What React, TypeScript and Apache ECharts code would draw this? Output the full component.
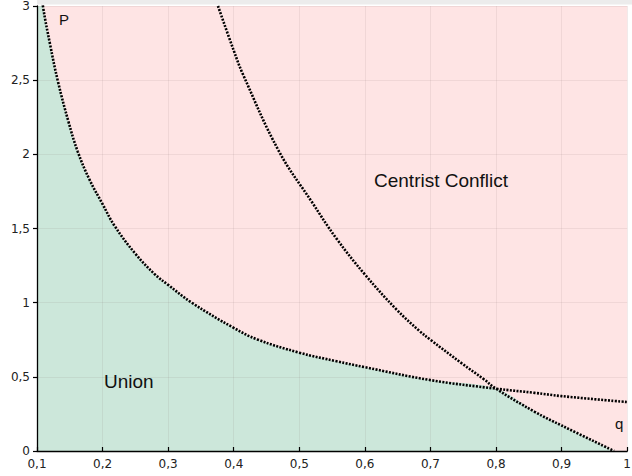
import React, { useEffect, useRef } from "react";
import * as echarts from "echarts";

const xTicks = [0.1, 0.2, 0.3, 0.4, 0.5, 0.6, 0.7, 0.8, 0.9, 1.0];
const yTicks = [0, 0.5, 1, 1.5, 2, 2.5, 3];

// Curve P
const pCurve: [number, number][] = [
  [0.1, 3.3], [0.109, 3.0], [0.12, 2.74], [0.132, 2.49], [0.148, 2.22],
  [0.162, 2.02], [0.18, 1.83], [0.2, 1.665], [0.218, 1.52], [0.25, 1.33],
  [0.28, 1.19], [0.3, 1.12], [0.336, 1.0], [0.4, 0.83], [0.436, 0.752],
  [0.5, 0.663], [0.557, 0.605], [0.6, 0.565], [0.7, 0.478], [0.8, 0.42],
  [0.859, 0.392], [0.9, 0.37], [1.0, 0.33],
];

// Curve q
const qCurve: [number, number][] = [
  [0.376, 3.0], [0.4, 2.7], [0.414, 2.54], [0.469, 2.02], [0.519, 1.68],
  [0.557, 1.43], [0.6, 1.19], [0.648, 0.955], [0.683, 0.81], [0.7, 0.75],
  [0.748, 0.59], [0.781, 0.485], [0.8, 0.42], [0.859, 0.264], [0.9, 0.172],
  [0.98, 0],
];

const crossX = 0.8;

const regionLabels = [
  { text: "P", x: 59, y: 19.5, size: 15 },
  { text: "q", x: 615, y: 423, size: 15 },
  { text: "Centrist Conflict", x: 374, y: 180, size: 19 },
  { text: "Union", x: 104, y: 381, size: 19 },
];

const fmt = (v: number) => String(Number(v.toFixed(1))).replace(".", ",");

export default function App() {
  const ref = useRef<HTMLDivElement>(null);
  useEffect(() => {
    if (!ref.current) return;
    const chart = echarts.init(ref.current, null, { renderer: "svg" });
    const unionBoundary = pCurve
      .filter((p) => p[0] < crossX)
      .concat(qCurve.filter((q) => q[0] >= crossX));
    const dotted = {
      color: "#000",
      width: 2.6,
      type: [2, 1.4] as any,
      cap: "butt" as const,
    };
    const smoothOpts = { smooth: 0.4 };
    chart.setOption({
      animation: false,
      grid: {
        left: 37,
        right: 0,
        top: 4.7,
        bottom: 25,
        show: true,
        backgroundColor: "#fee4e4",
        borderWidth: 0,
      },
      xAxis: {
        type: "value",
        min: xTicks[0],
        max: xTicks[xTicks.length - 1],
        interval: 0.1,
        z: 3,
        axisLine: { show: true, onZero: false, lineStyle: { color: "#000", width: 1.3 } },
        axisTick: { show: true, inside: true, length: 4, lineStyle: { color: "#000", width: 1.2 } },
        axisLabel: {
          margin: 7,
          fontSize: 12,
          fontFamily: "DejaVu Sans",
          color: "#222",
          formatter: (v: number) => fmt(v),
        },
        splitLine: { show: true, lineStyle: { color: "rgba(120,100,100,0.10)", width: 1 } },
      },
      yAxis: {
        type: "value",
        min: yTicks[0],
        max: yTicks[yTicks.length - 1],
        interval: 0.5,
        z: 3,
        axisLine: { show: true, onZero: false, lineStyle: { color: "#000", width: 1.3 } },
        axisTick: { show: true, inside: false, length: 4, lineStyle: { color: "#000", width: 1.2 } },
        axisLabel: {
          margin: 7,
          fontSize: 12,
          fontFamily: "DejaVu Sans",
          color: "#222",
          formatter: (v: number) => fmt(v),
        },
        splitLine: { show: true, lineStyle: { color: "rgba(120,100,100,0.10)", width: 1 } },
      },
      graphic: [
        {
          type: "rect",
          shape: { x: 37, y: 0, width: 600, height: 4.5 },
          style: { fill: "#ececec" },
          z: 1,
        },
        ...regionLabels.map((l) => ({
          type: "text",
          x: l.x,
          y: l.y,
          z: 10,
          style: {
            text: l.text,
            font: `${l.size}px "Liberation Sans", Arial, sans-serif`,
            fill: "#111",
            textAlign: "left",
            textVerticalAlign: "middle",
          },
        })),
      ],
      series: [
        {
          type: "line",
          data: unionBoundary,
          ...smoothOpts,
          showSymbol: false,
          symbol: "none",
          lineStyle: { width: 0 },
          areaStyle: { color: "#cce7da", opacity: 1, origin: "start" },
          z: 2,
          silent: true,
        },
        {
          type: "line",
          data: pCurve,
          ...smoothOpts,
          symbol: "none",
          lineStyle: dotted,
          z: 5,
        },
        {
          type: "line",
          data: qCurve,
          ...smoothOpts,
          symbol: "none",
          lineStyle: dotted,
          z: 5,
        },
      ],
    });
    return () => chart.dispose();
  }, []);
  return (
    <div
      style={{
        position: "fixed",
        left: 0,
        top: 0,
        width: 632,
        height: 476,
        overflow: "hidden",
        background: "#fff",
      }}
    >
      <div ref={ref} style={{ width: 634, height: 476 }} />
    </div>
  );
}
